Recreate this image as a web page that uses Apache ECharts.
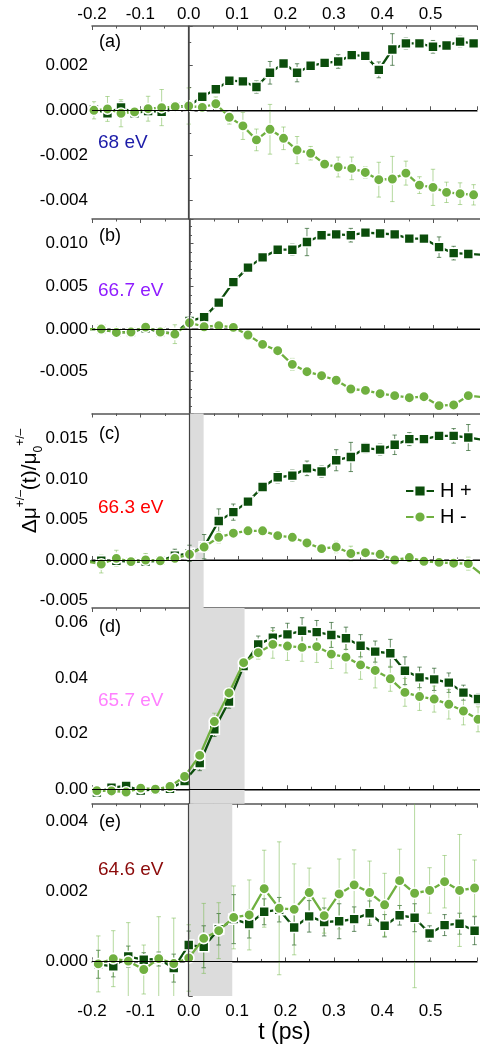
<!DOCTYPE html>
<html>
<head>
<meta charset="utf-8">
<script src="https://cdn.jsdelivr.net/npm/echarts@6/dist/echarts.min.js"></script>
<style>
html,body{margin:0;padding:0;background:#fff;}
#chart{width:480px;height:1045px;}
</style>
</head>
<body>
<div id="chart"></div>
<script>
// ---------- data ----------
const T_A = [-0.196,-0.168,-0.140,-0.112,-0.084,-0.056,-0.028,0.000,0.028,0.056,0.084,0.112,0.140,0.168,0.196,0.224,0.252,0.281,0.309,0.337,0.365,0.393,0.421,0.449,0.477,0.505,0.533,0.561,0.589];
const HP_A = [0.00004,-0.00013,0.00013,-0.00013,-0.00003,-0.00007,0.00016,0.00019,0.0006,0.00093,0.00131,0.00128,0.00103,0.00166,0.00207,0.00166,0.00197,0.0021,0.00216,0.00244,0.00241,0.00179,0.00269,0.00296,0.00296,0.00281,0.00287,0.00304,0.00296];
const HP_A_ERR = [0.00012,0.00018,0.00025,0.0001,0.00015,0.00012,0.0001,0.00012,0.0001,0.00012,0.00015,0.00018,0.00027,0.0005,0.0002,0.0004,0.00015,0.00018,0.0003,0.0001,0.0002,0.00035,0.0007,0.00025,0.0001,0.00028,0.0002,0.00024,0.0002];
const HM_A = [0,0.00006,-0.00013,-0.00007,0.00007,0.00012,0.00016,0.00019,0.00013,0.00029,-0.00031,-0.00069,-0.00131,-0.00084,-0.00124,-0.00176,-0.0019,-0.00238,-0.00251,-0.00257,-0.00275,-0.00307,-0.00304,-0.00278,-0.00331,-0.00341,-0.00363,-0.00369,-0.00374];
const HM_A_ERR = [0.00038,0.00055,0.0006,0.00015,0.00055,0.0008,0.0002,0.0008,0.0001,0.0003,0.0003,0.0006,0.00048,0.0011,0.0005,0.0006,0.0003,0.0002,0.00044,0.0005,0.00025,0.00077,0.001,0.00053,0.00037,0.0008,0.00045,0.00048,0.00045];

const T_B = [-0.211,-0.181,-0.150,-0.120,-0.090,-0.060,-0.030,0.000,0.030,0.060,0.090,0.120,0.150,0.181,0.211,0.241,0.271,0.301,0.331,0.361,0.391,0.421,0.451,0.481,0.512,0.542,0.572,0.602];
const HP_B = [0,0,-0.0004,-0.00035,0.0001,-0.00035,-0.0005,0.00094,0.0014,0.0031,0.0055,0.0072,0.0084,0.0093,0.0093,0.0102,0.011,0.0111,0.011,0.0113,0.0112,0.0111,0.0106,0.0106,0.0096,0.0089,0.0088,0.0087];
const HP_B_ERR = [0.0002,0.0002,0.0002,0.0002,0.0002,0.0002,0.0003,0.0003,0.0002,0.0002,0.0002,0.0002,0.0002,0.0002,0.00065,0.0016,0.0002,0.0002,0.0008,0.0002,0.0002,0.0002,0.0002,0.0002,0.0012,0.0008,0.0002,0.0002];
const HM_B = [0,0,-0.0004,-0.00035,0.00023,-0.00035,-0.0006,0.00074,0.00027,0.0004,0.0002,-0.0007,-0.0018,-0.00254,-0.00414,-0.005,-0.00547,-0.006,-0.00703,-0.00719,-0.00758,-0.00781,-0.00805,-0.00793,-0.00898,-0.0089,-0.00781,-0.008];
const HM_B_ERR = [0.0002,0.0002,0.0002,0.0002,0.0002,0.0002,0.0011,0.0003,0.0002,0.0002,0.0002,0.0002,0.0002,0.0002,0.0007,0.0002,0.0002,0.0002,0.0002,0.0002,0.0002,0.0002,0.0002,0.0002,0.0003,0.0002,0.0002,0.0002];

const T_C = [-0.211,-0.181,-0.150,-0.120,-0.090,-0.060,-0.030,0.000,0.030,0.060,0.090,0.120,0.150,0.181,0.211,0.241,0.271,0.301,0.331,0.361,0.391,0.421,0.451,0.481,0.512,0.542,0.572,0.602];
const HP_C = [-0.0002,-0.0001,-0.0001,-0.0002,-0.0002,-0.0001,0.00053,0.00082,0.00164,0.0048,0.0059,0.0072,0.009,0.0102,0.0104,0.0113,0.0109,0.0123,0.0127,0.0138,0.0136,0.0142,0.0149,0.0149,0.0153,0.0153,0.0151,0.0148];
const HP_C_ERR = [0.0003,0.0006,0.0005,0.0003,0.0004,0.0003,0.0008,0.001,0.0015,0.0015,0.001,0.0006,0.0004,0.0007,0.0007,0.0009,0.0007,0.0013,0.0018,0.0006,0.0007,0.0012,0.0008,0.0003,0.0003,0.0009,0.0016,0.0008];
const HM_C = [-0.0002,-0.0005,0.0002,-0.0002,0,-0.0001,0.0002,0.0007,0.0016,0.0028,0.0033,0.0036,0.0036,0.003,0.0028,0.0021,0.0014,0.0016,0.0008,0.0009,0.0007,0,0.0003,-0.00016,-0.0003,-0.0004,-0.00045,-0.0019];
const HM_C_ERR = [0.0003,0.0011,0.001,0.0003,0.0008,0.0003,0.0004,0.0003,0.0003,0.0007,0.0003,0.0003,0.0003,0.0003,0.0003,0.0003,0.0003,0.0007,0.0009,0.0003,0.0003,0.0003,0.0003,0.0003,0.0003,0.0003,0.0008,0.0003];

const T_D = [-0.190,-0.160,-0.130,-0.100,-0.070,-0.040,-0.010,0.021,0.051,0.081,0.111,0.141,0.171,0.201,0.231,0.261,0.291,0.321,0.351,0.381,0.412,0.442,0.472,0.502,0.532,0.562,0.592];
const HP_D = [-0.0012,0.0006,0.0012,-0.0005,0,0.0002,0.003,0.0094,0.0216,0.0316,0.0444,0.0522,0.0546,0.0558,0.0571,0.0566,0.0556,0.0544,0.0517,0.0496,0.049,0.0427,0.0403,0.0396,0.0384,0.0348,0.0325];
const HP_D_ERR = [0.0005,0.0005,0.0005,0.0005,0.0005,0.0008,0.0015,0.0027,0.0026,0.0024,0.001,0.003,0.0036,0.004,0.0047,0.0042,0.0045,0.004,0.004,0.0038,0.005,0.005,0.0037,0.004,0.0035,0.0027,0.002];
const HM_D = [-0.0005,-0.0006,-0.001,0.0004,0,0.001,0.0046,0.0122,0.0244,0.0347,0.0456,0.0492,0.0522,0.0516,0.0511,0.0514,0.0487,0.0476,0.0448,0.0428,0.0398,0.0349,0.0334,0.0325,0.0306,0.0282,0.0252];
const HM_D_ERR = [0.0005,0.0005,0.0005,0.0005,0.0005,0.0006,0.001,0.0018,0.003,0.002,0.001,0.0023,0.005,0.0052,0.005,0.0057,0.0052,0.0057,0.0052,0.0063,0.0045,0.005,0.005,0.0047,0.0053,0.005,0.0045];

const T_E = [-0.187,-0.156,-0.125,-0.093,-0.062,-0.031,0.000,0.031,0.062,0.093,0.125,0.156,0.187,0.218,0.249,0.280,0.311,0.342,0.374,0.405,0.436,0.467,0.498,0.529,0.560,0.591];
const HP_E = [-0.00008,-0.00014,0.00014,0.00005,0.00007,-0.00019,0.00047,0.00042,0.00092,0.00121,0.00107,0.00142,0.00148,0.00097,0.00129,0.00113,0.00115,0.00121,0.00138,0.00102,0.00132,0.00125,0.0008,0.00104,0.00108,0.00088];
const HP_E_ERR = [0.0004,0.0003,0.0003,0.0002,0.0002,0.0004,0.0004,0.0006,0.00045,0.0007,0.0004,0.00037,0.00035,0.0005,0.00045,0.0004,0.0005,0.00035,0.00035,0.00032,0.00028,0.0004,0.00022,0.0003,0.0003,0.0004];
const HM_E = [-0.00007,0.00008,0.00001,-0.00023,0.00008,-0.00006,0.0001,0.00066,0.00088,0.00126,0.00133,0.00208,0.00152,0.00149,0.00197,0.00131,0.00193,0.00219,0.00197,0.00162,0.00231,0.00195,0.00203,0.00228,0.00203,0.0021];
const HM_E_ERR = [0.0008,0.0008,0.0011,0.0007,0.0012,0.0013,0.00095,0.001,0.0008,0.0009,0.001,0.0011,0.0019,0.0013,0.0007,0.0005,0.001,0.001,0.0009,0.0009,0.0009,0.0027,0.00065,0.00075,0.0016,0.0008];

const PANEL_LETTERS = ['(a)','(b)','(c)','(d)','(e)'];
const ENERGY_LABELS = ['68 eV','66.7 eV','66.3 eV','65.7 eV','64.6 eV'];
const SHADE_RANGES = [null, null, [0, 0.029], [0, 0.113], [0, 0.09]];
const Y_MIN = [-0.00481, -0.0099, -0.00592, -0.0052, -0.00099];
const Y_MAX = [0.00373, 0.0129, 0.01806, 0.0653, 0.00451];
const Y_STEP = [0.002, 0.005, 0.005, 0.02, 0.002];
const Y_DEC = [3, 3, 3, 2, 3];
const SERIES_NAMES = ['H +', 'H -'];

// ---------- layout / style ----------
const FONT = 'Liberation Sans, Arial, sans-serif';
const TOPS = [26, 219, 413.5, 608, 803.7];
const HEIGHTS = [193, 194.5, 194.5, 195.7, 194.6];
const Y_SPLIT = [4, 5, 5, 4, 3];
const Y_MINOR = [2, 5, 5, 2, 2];
const LETTER_Y = [43, 237, 435, 628, 823];
const ENERGY_Y = [144, 292, 509, 702, 871];
const ENERGY_COLORS = ['#1c1ca8', '#8f1cff', '#ff0000', '#ff80ff', '#8b0a0a'];
const DARK = '#0b4d0b', LIGHT = '#70b040';
const DARK_ERR = 'rgba(25,85,25,0.65)', LIGHT_ERR = 'rgba(120,185,80,0.55)';
const AX = '#555555';

const panels = [
  {t: T_A, hp: HP_A, hpe: HP_A_ERR, hm: HM_A, hme: HM_A_ERR},
  {t: T_B, hp: HP_B, hpe: HP_B_ERR, hm: HM_B, hme: HM_B_ERR},
  {t: T_C, hp: HP_C, hpe: HP_C_ERR, hm: HM_C, hme: HM_C_ERR},
  {t: T_D, hp: HP_D, hpe: HP_D_ERR, hm: HM_D, hme: HM_D_ERR},
  {t: T_E, hp: HP_E, hpe: HP_E_ERR, hm: HM_E, hme: HM_E_ERR}
];

function isMult(v, step) { const r = v / step; return Math.abs(r - Math.round(r)) < 1e-6; }

function errRenderer(color) {
  return function (params, api) {
    const x = api.value(0), y = api.value(1), e = api.value(2);
    const a = api.coord([x, y + e]);
    const b = api.coord([x, y - e]);
    const hw = 2.2;
    const st = {stroke: color, lineWidth: 1};
    return {type: 'group', children: [
      {type: 'line', shape: {x1: a[0], y1: a[1], x2: b[0], y2: b[1]}, style: st},
      {type: 'line', shape: {x1: a[0] - hw, y1: a[1], x2: a[0] + hw, y2: a[1]}, style: st},
      {type: 'line', shape: {x1: b[0] - hw, y1: b[1], x2: b[0] + hw, y2: b[1]}, style: st}
    ]};
  };
}

const grids = [], xAxes = [], yAxes = [], series = [], graphics = [];

panels.forEach(function (p, i) {
  grids.push({left: 92, right: 0, top: TOPS[i], height: HEIGHTS[i], containLabel: false});
  const xBase = {
    type: 'value', gridIndex: i, min: -0.2, max: 0.596, splitNumber: 8,
    axisLine: {show: true, lineStyle: {color: AX, width: 1.5}},
    axisTick: {show: true, inside: true, length: 4, lineStyle: {color: AX, width: 1}},
    minorTick: {show: true, splitNumber: 2, length: 2.5, lineStyle: {color: AX, width: 1}},
    splitLine: {show: false}, minorSplitLine: {show: false}
  };
  xAxes.push(Object.assign({}, xBase, {
    position: 'bottom',
    axisLabel: {show: i === 4, margin: 7, fontSize: 17, color: '#000', fontFamily: FONT,
      formatter: function (v) { return isMult(v, 0.1) ? v.toFixed(1) : ''; }},
    name: i === 4 ? 't (ps)' : '', nameLocation: 'middle', nameGap: 21,
    nameTextStyle: {fontSize: 23, color: '#000', fontFamily: FONT}
  }));
  xAxes.push(Object.assign({}, xBase, {
    position: 'top',
    axisLabel: {show: i === 0, margin: 3, fontSize: 17, color: '#000', fontFamily: FONT,
      formatter: function (v) { return isMult(v, 0.1) ? v.toFixed(1) : ''; }}
  }));
  yAxes.push({
    type: 'value', gridIndex: i, min: Y_MIN[i], max: Y_MAX[i], splitNumber: Y_SPLIT[i],
    axisLine: {show: true, lineStyle: {color: AX, width: 1.5}},
    axisTick: {show: true, inside: true, length: 4, lineStyle: {color: AX, width: 1}},
    minorTick: {show: true, splitNumber: Y_MINOR[i], length: 2.5, lineStyle: {color: AX, width: 1}},
    splitLine: {show: false}, minorSplitLine: {show: false},
    axisLabel: {margin: 4, fontSize: 17, color: '#000', fontFamily: FONT,
      formatter: (function (step, dec) { return function (v) {
        return isMult(v, step) ? (Math.abs(v) < 1e-12 ? 0 : v).toFixed(dec) : ''; }; })(Y_STEP[i], Y_DEC[i])}
  });

  const xi = 2 * i;
  // reference lines + shading
  const deco = {
    type: 'line', data: [], xAxisIndex: xi, yAxisIndex: i, z: 0, silent: true,
    markLine: {silent: true, symbol: ['none', 'none'], label: {show: false}, animation: false,
      data: [
        {xAxis: 0, lineStyle: {color: '#444', width: 1.2, type: 'solid'}},
        {yAxis: 0, lineStyle: {color: '#000', width: 1, type: 'solid'}}
      ]}
  };
  if (SHADE_RANGES[i]) {
    deco.markArea = {silent: true, itemStyle: {color: '#dcdcdc'}, animation: false,
      data: [[{xAxis: SHADE_RANGES[i][0]}, {xAxis: SHADE_RANGES[i][1]}]]};
  }
  series.push(deco);

  series.push({type: 'custom', xAxisIndex: xi, yAxisIndex: i, z: 1, clip: true, silent: true,
    renderItem: errRenderer(DARK_ERR), encode: {x: 0, y: 1},
    data: p.t.map(function (t, k) { return [t, p.hp[k], p.hpe[k]]; })});
  series.push({type: 'custom', xAxisIndex: xi, yAxisIndex: i, z: 1, clip: true, silent: true,
    renderItem: errRenderer(LIGHT_ERR), encode: {x: 0, y: 1},
    data: p.t.map(function (t, k) { return [t, p.hm[k], p.hme[k]]; })});
  series.push({name: SERIES_NAMES[0], type: 'line', xAxisIndex: xi, yAxisIndex: i, z: 2,
    clip: true, symbol: 'rect', symbolSize: 10, showAllSymbol: true,
    lineStyle: {color: DARK, width: 2.3, type: 'solid'},
    itemStyle: {color: DARK, borderColor: '#ffffff', borderWidth: 1.6},
    data: p.t.map(function (t, k) { return [t, p.hp[k]]; })});
  series.push({name: SERIES_NAMES[1], type: 'line', xAxisIndex: xi, yAxisIndex: i, z: 3,
    clip: true, symbol: 'circle', symbolSize: 10.5, showAllSymbol: true,
    lineStyle: {color: LIGHT, width: 2.3, type: 'solid'},
    itemStyle: {color: LIGHT, borderColor: '#ffffff', borderWidth: 1.6},
    data: p.t.map(function (t, k) { return [t, p.hm[k]]; })});

  graphics.push({type: 'text', left: 99, top: LETTER_Y[i] - 10, z: 10,
    style: {text: PANEL_LETTERS[i], fontSize: 18, fontFamily: FONT, fill: '#000'}});
  graphics.push({type: 'text', left: 98, top: ENERGY_Y[i] - 11, z: 10,
    style: {text: ENERGY_LABELS[i], fontSize: 19, fontFamily: FONT, fill: ENERGY_COLORS[i]}});
});

graphics.push({
  type: 'text', x: 30, y: 481, rotation: Math.PI / 2, z: 10,
  style: {
    text: '{m|\u0394\u03bc}{sup|+/\u2013}{m|(t)/\u03bc}{sub|0}{sup|+/\u2013}',
    align: 'center', verticalAlign: 'middle', fill: '#000', fontFamily: FONT,
    rich: {
      m: {fontSize: 21, fontFamily: FONT, lineHeight: 30, verticalAlign: 'middle'},
      sup: {fontSize: 12, fontFamily: FONT, lineHeight: 30, verticalAlign: 'top'},
      sub: {fontSize: 12, fontFamily: FONT, lineHeight: 30, verticalAlign: 'bottom'}
    }
  }
});

const chart = echarts.init(document.getElementById('chart'), null, {renderer: 'canvas'});
chart.setOption({
  animation: false,
  backgroundColor: '#fff',
  textStyle: {fontFamily: FONT},
  legend: {
    data: SERIES_NAMES, orient: 'vertical', left: 405, top: 481, padding: 0,
    itemWidth: 28, itemHeight: 14, itemGap: 6,
    textStyle: {fontSize: 20, color: '#000', fontFamily: FONT, padding: [0, 0, 0, 1]},
    lineStyle: {type: 'solid'}, selectedMode: false
  },
  grid: grids, xAxis: xAxes, yAxis: yAxes, series: series, graphic: graphics
});
</script>
</body>
</html>
